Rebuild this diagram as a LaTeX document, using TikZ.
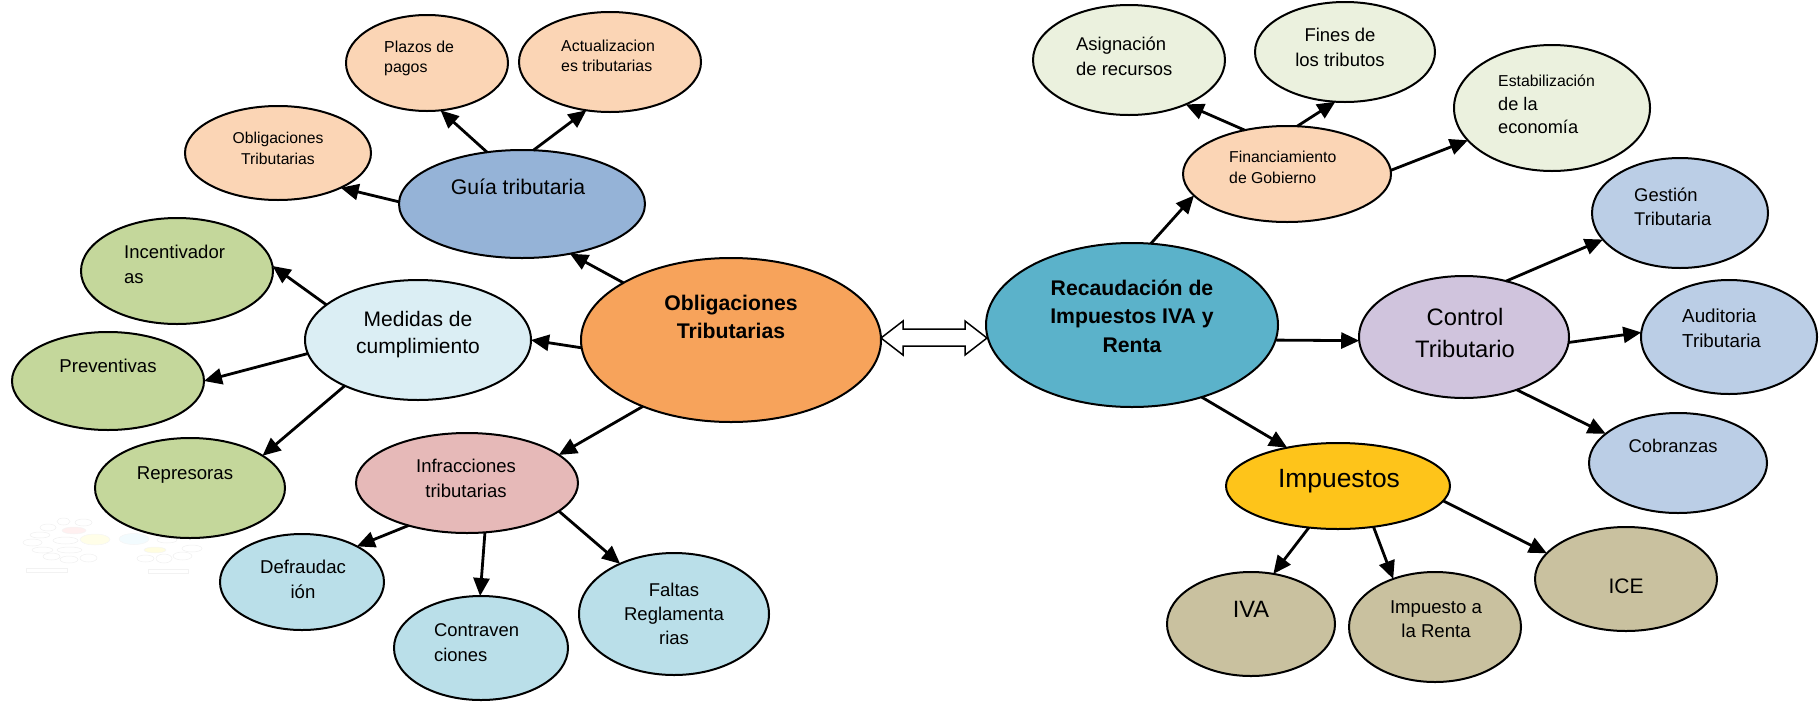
\documentclass[tikz,border=0pt]{standalone}
\usepackage{fontspec}
\setmainfont{Liberation Sans}
\usetikzlibrary{arrows.meta,shapes.geometric}
\definecolor{cPeach}{HTML}{FBD5B5}
\definecolor{cBlue}{HTML}{95B3D7}
\definecolor{cGreen}{HTML}{C4D79B}
\definecolor{cMed}{HTML}{DBEEF4}
\definecolor{cPink}{HTML}{E6B9B8}
\definecolor{cLB}{HTML}{BADFE9}
\definecolor{cOrange}{HTML}{F7A35B}
\definecolor{cTeal}{HTML}{5BB2CA}
\definecolor{cPale}{HTML}{EBF1DE}
\definecolor{cLav}{HTML}{D0C4DD}
\definecolor{cGB}{HTML}{BBCEE6}
\definecolor{cGold}{HTML}{FEC41A}
\definecolor{cTan}{HTML}{C9C19F}
\newcommand{\fsz}[2]{\fontsize{#1pt}{#2pt}\selectfont}
\newcommand{\tabL}[1]{\begin{tabular}[t]{@{}l@{}}#1\end{tabular}}
\newcommand{\tabC}[1]{\begin{tabular}[t]{@{}c@{}}#1\end{tabular}}
\begin{document}
\begin{tikzpicture}[x=1pt,y=-1pt,
  ell/.style={ellipse, draw=black, line width=2pt, inner sep=0pt, outer sep=0pt},
  conn/.style={line width=2.8pt, -{Triangle[length=18pt,width=16pt]}},
  tl/.style={inner sep=0pt, anchor=base west, text=black},
  tc/.style={inner sep=0pt, anchor=base, text=black},
  ghost/.style={draw=black!6, line width=0.5pt, fill=white},
  ghostf/.style={draw=black!4, line width=0.5pt}]
\useasboundingbox (0,0) rectangle (1820,702);
% faint thumbnail in the lower left
\begin{scope}
  \draw[ghost] (48,527.5) ellipse (8 and 3.5);
  \draw[ghost] (63.5,521.5) ellipse (6.5 and 3.5);
  \draw[ghost] (83.5,522.5) ellipse (8.5 and 3.5);
  \draw[ghost] (40,535) ellipse (10 and 3);
  \draw[ghost] (32.5,542.5) ellipse (9.5 and 3.5);
  \draw[ghost] (65.5,540.5) ellipse (12.5 and 3.5);
  \draw[ghost] (42.5,550) ellipse (10.5 and 3);
  \draw[ghost] (69.5,550) ellipse (12.5 and 3);
  \draw[ghost] (51.5,556.5) ellipse (8.5 and 3.5);
  \draw[ghost] (69,559.5) ellipse (9 and 3.5);
  \draw[ghost] (88.5,558) ellipse (8.5 and 4);
  \draw[ghost] (145.5,558.5) ellipse (8.5 and 3.5);
  \draw[ghost] (164,558.5) ellipse (8 and 4.5);
  \draw[ghost] (182.5,556) ellipse (9.5 and 4);
  \draw[ghost] (167,540) ellipse (10 and 3);
  \draw[ghost] (192,548.5) ellipse (10 and 3.5);
  \fill[ghostf, fill=red!6] (74,530.5) ellipse (12 and 3.5);
  \fill[ghostf, fill=yellow!9] (95,539.5) ellipse (15 and 5.5);
  \fill[ghostf, fill=cyan!5] (134,539) ellipse (15 and 5.5);
  \fill[ghostf, fill=yellow!12] (155,550) ellipse (11 and 3);
  \draw[draw=black!5, line width=0.5pt] (26,568) rectangle (67,572);
  \draw[draw=black!5, line width=0.5pt] (148,569) rectangle (188,573);
\end{scope}
% ellipses
\node[ell, fill=cPeach, minimum width=162, minimum height=96] (plazos) at (427,63) {};
\node[ell, fill=cPeach, minimum width=182, minimum height=100] (actual) at (610,62) {};
\node[ell, fill=cPeach, minimum width=186, minimum height=94] (oblsmall) at (278,153) {};
\node[ell, fill=cBlue, minimum width=246, minimum height=108] (guia) at (522,204) {};
\node[ell, fill=cGreen, minimum width=192, minimum height=106] (incent) at (177,271) {};
\node[ell, fill=cMed, minimum width=226, minimum height=120] (medidas) at (418,340) {};
\node[ell, fill=cGreen, minimum width=192, minimum height=98] (prevent) at (108,381) {};
\node[ell, fill=cGreen, minimum width=190, minimum height=100] (repres) at (190,488) {};
\node[ell, fill=cPink, minimum width=222, minimum height=100] (infrac) at (467,483) {};
\node[ell, fill=cLB, minimum width=164, minimum height=96] (defraud) at (302,582) {};
\node[ell, fill=cLB, minimum width=174, minimum height=104] (contrav) at (481,648) {};
\node[ell, fill=cLB, minimum width=190, minimum height=122] (faltas) at (674,614) {};
\node[ell, fill=cOrange, minimum width=300, minimum height=164] (orange) at (731,340) {};
\node[ell, fill=cTeal, minimum width=292, minimum height=164] (recaud) at (1132,325) {};
\node[ell, fill=cPale, minimum width=192, minimum height=110] (asign) at (1129,60) {};
\node[ell, fill=cPale, minimum width=180, minimum height=100] (fines) at (1345,52) {};
\node[ell, fill=cPale, minimum width=196, minimum height=126] (estab) at (1552,108) {};
\node[ell, fill=cPeach, minimum width=208, minimum height=96] (financ) at (1287,174) {};
\node[ell, fill=cGB, minimum width=176, minimum height=110] (gestion) at (1680,213) {};
\node[ell, fill=cLav, minimum width=210, minimum height=122] (control) at (1464,337) {};
\node[ell, fill=cGB, minimum width=176, minimum height=114] (auditoria) at (1729,337) {};
\node[ell, fill=cGB, minimum width=178, minimum height=100] (cobranzas) at (1678,463) {};
\node[ell, fill=cGold, minimum width=224, minimum height=86] (impuestos) at (1338,486) {};
\node[ell, fill=cTan, minimum width=168, minimum height=104] (iva) at (1251,624) {};
\node[ell, fill=cTan, minimum width=172, minimum height=110] (renta) at (1435,627) {};
\node[ell, fill=cTan, minimum width=182, minimum height=104] (ice) at (1626,579) {};
% texts
\node[tl, font=\fsz{15.9}{20}] (plazos-t) at (384,52.7) {\tabL{Plazos de\\pagos}};
\node[tl, font=\fsz{15.9}{20}] (actual-t) at (561,51) {\tabL{Actualizacion\\es tributarias}};
\node[tc, font=\fsz{15.7}{21}] (oblsmall-t) at (278,143) {\tabC{Obligaciones\\Tributarias}};
\node[tc, font=\fsz{21.2}{26}] (guia-t) at (518,194) {Guía tributaria};
\node[tl, font=\fsz{18.5}{25}] (incent-t) at (124,258) {\tabL{Incentivador\\as}};
\node[tc, font=\fsz{21}{27}] (medidas-t) at (418,326) {\tabC{Medidas de\\cumplimiento}};
\node[tc, font=\fsz{18.6}{24}] (prevent-t) at (108,372) {Preventivas};
\node[tc, font=\fsz{18.6}{24}] (repres-t) at (185,479) {Represoras};
\node[tc, font=\fsz{18.5}{25}] (infrac-t) at (466,472) {\tabC{Infracciones\\tributarias}};
\node[tc, font=\fsz{18.6}{25}] (defraud-t) at (303,573) {\tabC{Defraudac\\ión}};
\node[tl, font=\fsz{18.4}{25}] (contrav-t) at (434,636) {\tabL{Contraven\\ciones}};
\node[tc, font=\fsz{18.5}{24}] (faltas-t) at (674,596) {\tabC{Faltas\\Reglamenta\\rias}};
\node[tc, font=\fsz{21.2}{28}\bfseries] (orange-t) at (731,310) {\tabC{Obligaciones\\Tributarias}};
\node[tc, font=\fsz{21.2}{28.5}\bfseries] (recaud-t) at (1132,295) {\tabC{Recaudación de\\Impuestos IVA y\\Renta}};
\node[tl, font=\fsz{18.4}{25}] (asign-t) at (1076,50) {\tabL{Asignación\\de recursos}};
\node[tc, font=\fsz{18.5}{25}] (fines-t) at (1340,41) {\tabC{Fines de\\los tributos}};
\node[tl, font=\fsz{15.8}{23.3}] (estab-t) at (1498,86.7) {\tabL{Estabilización\\\fsz{18.2}{23.3}de la\\\fsz{18.2}{23.3}economía}};
\node[tl, font=\fsz{15.8}{21}] (financ-t) at (1229,162) {\tabL{Financiamiento\\de Gobierno}};
\node[tl, font=\fsz{18.4}{24}] (gestion-t) at (1634,201) {\tabL{Gestión\\Tributaria}};
\node[tc, font=\fsz{23.8}{32}] (control-t) at (1465,325) {\tabC{Control\\Tributario}};
\node[tl, font=\fsz{18.8}{25}] (auditoria-t) at (1682,322) {\tabL{Auditoria\\Tributaria}};
\node[tc, font=\fsz{18.4}{24}] (cobranzas-t) at (1673,452) {Cobranzas};
\node[tc, font=\fsz{26.4}{32}] (impuestos-t) at (1339,487) {Impuestos};
\node[tc, font=\fsz{23.6}{30}] (iva-t) at (1251,617) {IVA};
\node[tc, font=\fsz{18.6}{24}] (renta-t) at (1436,613) {\tabC{Impuesto a\\la Renta}};
\node[tc, font=\fsz{21}{26}] (ice-t) at (1626,593) {ICE};
% connectors
\draw[conn] (guia.124) -- (plazos.-74);
\draw[conn] (guia.78) -- (actual.-116);
\draw[conn] (guia.179) -- (oblsmall.-29);
\draw[conn] (orange.152) -- (guia.-46);
\draw[conn] (medidas.159) -- (incent.3);
\draw[conn] (orange.183) -- (medidas.0);
\draw[conn] (medidas.187) -- (prevent.0);
\draw[conn] (medidas.212) -- (repres.24);
\draw[conn] (orange.217) -- (infrac.17);
\draw[conn] (infrac.216) -- (defraud.33);
\draw[conn] (infrac.-70) -- (contrav.91);
\draw[conn] (infrac.-17) -- (faltas.137);
\draw[conn] (recaud.77) -- (financ.193);
\draw[conn] (financ.134) -- (asign.-38);
\draw[conn] (financ.78) -- (fines.-101);
\draw[conn] (financ.2) -- (estab.201);
\draw[conn] (control.53) -- (gestion.199);
\draw[conn] (control.-3) -- (auditoria.177);
\draw[conn] (control.-45) -- (cobranzas.158);
\draw[conn] (recaud.-6) -- (control.182);
\draw[conn] (recaud.-46) -- (impuestos.143);
\draw[conn] (impuestos.235) -- (iva.66);
\draw[conn] (impuestos.-49) -- (renta.131);
\draw[conn] (impuestos.-8) -- (ice.162);
% double block arrow
\coordinate (dblL) at (881,338);
\coordinate (dblR) at (987,338);
\draw[line width=1.5pt, fill=white, line join=miter]
  (dblL) -- ++(22,-17) -- ++(0,8) -- ++(62,0) -- ++(0,-8) -- (dblR)
  -- ++(-22,17) -- ++(0,-9) -- ++(-62,0) -- ++(0,9) -- cycle;
\end{tikzpicture}
\end{document}
